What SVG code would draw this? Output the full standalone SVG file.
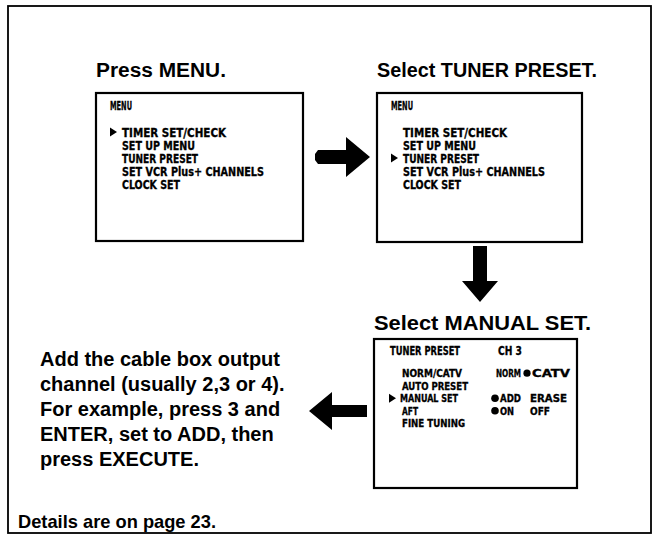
<svg xmlns="http://www.w3.org/2000/svg" width="660" height="539" viewBox="0 0 660 539">
<style>
.frame{fill:none;stroke:#000;stroke-width:1.8}
.box{fill:none;stroke:#000;stroke-width:2.2}
.big{font-family:"Liberation Sans",Arial,sans-serif;font-weight:bold;font-size:20px;fill:#000}
.osd{font-family:"DejaVu Sans Condensed","DejaVu Sans","Liberation Sans",sans-serif;font-weight:bold;font-size:11.5px;fill:#000;stroke:#000;stroke-width:0.3}
.osd3{font-size:10.5px}
.arr{fill:#000}
</style>
<defs>
<polygon id="tri" points="0,-4.5 7,0 0,4.5"/>
</defs>
<rect class="frame" x="8" y="6" width="643" height="527"/>

<g id="step1">
<text class="big" x="96" y="77" textLength="130" lengthAdjust="spacingAndGlyphs">Press MENU.</text>
<rect class="box" x="96" y="93" width="207" height="148"/>
<text class="osd" x="110" y="109.5" textLength="22" lengthAdjust="spacingAndGlyphs">MENU</text>
<use href="#tri" x="110" y="132" class="arr"/>
<text class="osd" x="122" y="136.5" textLength="104" lengthAdjust="spacingAndGlyphs">TIMER SET/CHECK</text>
<text class="osd" x="122" y="149.5" textLength="73" lengthAdjust="spacingAndGlyphs">SET UP MENU</text>
<text class="osd" x="122" y="162.5" textLength="76" lengthAdjust="spacingAndGlyphs">TUNER PRESET</text>
<text class="osd" x="122" y="175.5" textLength="142" lengthAdjust="spacingAndGlyphs">SET VCR Plus+ CHANNELS</text>
<text class="osd" x="122" y="188.5" textLength="58" lengthAdjust="spacingAndGlyphs">CLOCK SET</text>
</g>

<g id="step2">
<text class="big" x="377" y="77" textLength="220" lengthAdjust="spacingAndGlyphs">Select TUNER PRESET.</text>
<rect class="box" x="377" y="93" width="205" height="149"/>
<text class="osd" x="391" y="109.5" textLength="22" lengthAdjust="spacingAndGlyphs">MENU</text>
<text class="osd" x="403" y="136.5" textLength="104" lengthAdjust="spacingAndGlyphs">TIMER SET/CHECK</text>
<text class="osd" x="403" y="149.5" textLength="73" lengthAdjust="spacingAndGlyphs">SET UP MENU</text>
<use href="#tri" x="391" y="158" class="arr"/>
<text class="osd" x="403" y="162.5" textLength="76" lengthAdjust="spacingAndGlyphs">TUNER PRESET</text>
<text class="osd" x="403" y="175.5" textLength="142" lengthAdjust="spacingAndGlyphs">SET VCR Plus+ CHANNELS</text>
<text class="osd" x="403" y="188.5" textLength="58" lengthAdjust="spacingAndGlyphs">CLOCK SET</text>
</g>

<g id="step3">
<text class="big" x="374" y="330" textLength="217" lengthAdjust="spacingAndGlyphs">Select MANUAL SET.</text>
<rect class="box" x="374" y="339" width="203" height="149"/>
<text class="osd" x="390" y="354.5" textLength="70" lengthAdjust="spacingAndGlyphs">TUNER PRESET</text>
<text class="osd" x="498" y="354.5" textLength="24" lengthAdjust="spacingAndGlyphs">CH 3</text>
<text class="osd osd3" x="402" y="377" textLength="60" lengthAdjust="spacingAndGlyphs">NORM/CATV</text>
<text class="osd osd3" x="496" y="377" textLength="25" lengthAdjust="spacingAndGlyphs">NORM</text>
<circle cx="527" cy="373.2" r="3.6"/>
<text class="osd osd3" x="532" y="377" textLength="38" lengthAdjust="spacingAndGlyphs">CATV</text>
<text class="osd osd3" x="402" y="389.5" textLength="66" lengthAdjust="spacingAndGlyphs">AUTO PRESET</text>
<use href="#tri" x="389" y="398.2" class="arr"/>
<text class="osd osd3" x="400" y="402" textLength="58" lengthAdjust="spacingAndGlyphs">MANUAL SET</text>
<circle cx="495" cy="398.2" r="3.8"/>
<text class="osd osd3" x="500" y="402" textLength="21" lengthAdjust="spacingAndGlyphs">ADD</text>
<text class="osd osd3" x="530" y="402" textLength="37" lengthAdjust="spacingAndGlyphs">ERASE</text>
<text class="osd osd3" x="402" y="414.5" textLength="16" lengthAdjust="spacingAndGlyphs">AFT</text>
<circle cx="495" cy="410.7" r="3.8"/>
<text class="osd osd3" x="500" y="414.5" textLength="14" lengthAdjust="spacingAndGlyphs">ON</text>
<text class="osd osd3" x="530" y="414.5" textLength="20" lengthAdjust="spacingAndGlyphs">OFF</text>
<text class="osd osd3" x="402" y="427" textLength="63" lengthAdjust="spacingAndGlyphs">FINE TUNING</text>
</g>

<g id="step4">
<text class="big" x="40" y="366">Add the cable box output</text>
<text class="big" x="40" y="391">channel (usually 2,3 or 4).</text>
<text class="big" x="40" y="416">For example, press 3 and</text>
<text class="big" x="40" y="441">ENTER, set to ADD, then</text>
<text class="big" x="40" y="466">press EXECUTE.</text>
</g>

<g id="note">
<text class="big" x="18" y="528" style="font-size:19px" textLength="198" lengthAdjust="spacingAndGlyphs">Details are on page 23.</text>
</g>

<g id="connectors">
<polygon class="arr" points="318,150 346,150 346,137 370,157 346,177 346,164 318,164 315,160 315,154"/>
<polygon class="arr" points="473,246 487,246 487,281 498,281 480,302 462,281 473,281"/>
<polygon class="arr" points="367,405 332,405 332,392 309,411 332,430 332,417 367,417"/>
</g>
</svg>
